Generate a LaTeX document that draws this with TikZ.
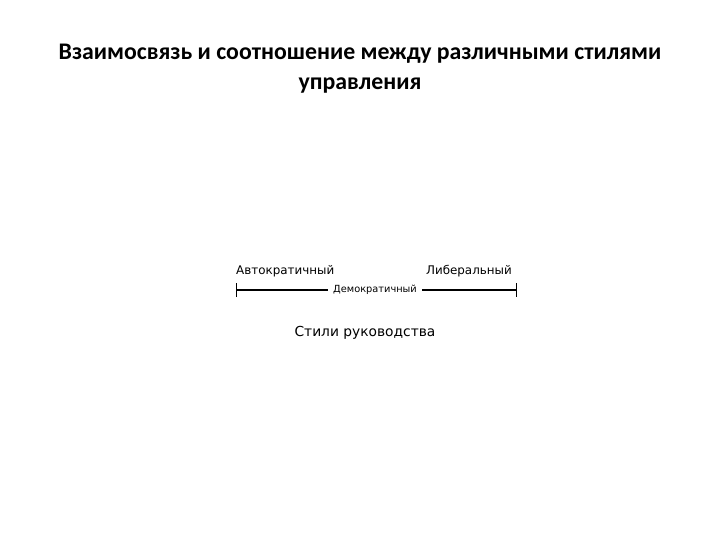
\documentclass[tikz,border=0pt]{standalone}
\usepackage{fontspec}
\setmainfont{Carlito}
\newfontfamily\labelfont{DejaVu Sans}
\usetikzlibrary{arrows.meta}
\tikzstyle{title}=[font=\bfseries\fontsize{23.8}{30}\selectfont, align=center, inner sep=0pt]
\tikzstyle{style name}=[font=\labelfont\fontsize{11.9}{14}\selectfont, inner sep=0pt]
\tikzstyle{middle}=[font=\labelfont\fontsize{9.8}{11}\selectfont, inner xsep=5pt, inner ysep=2pt, fill=white]
\tikzstyle{scale line}=[draw, line width=1.6pt, {Bar[width=14pt,line width=1pt]}-{Bar[width=14pt,line width=1pt]}]

\begin{document}
\begin{tikzpicture}[x=1pt, y=-1pt]
				\useasboundingbox (0,0) rectangle (720,540);
				% Heading
				\node[title] (head) at (360,69) {Взаимосвязь и соотношение между различными стилями\\управления};

				% The scale with its three styles
				\coordinate (left) at (236,290);
				\coordinate (right) at (517,290);
				\path[scale line] (left) -- (right);
				\node[middle] (demo) at (375,290) {Демократичный};
				\node[style name, anchor=base west] (auto) at (236,274) {Автократичный};
				\node[style name, anchor=base east] (lib) at (512,274) {Либеральный};

				% Caption
				\node[style name, font=\labelfont\fontsize{13.8}{16}\selectfont] (caption) at (365,333) {Стили руководства};
			\end{tikzpicture}
\end{document}
